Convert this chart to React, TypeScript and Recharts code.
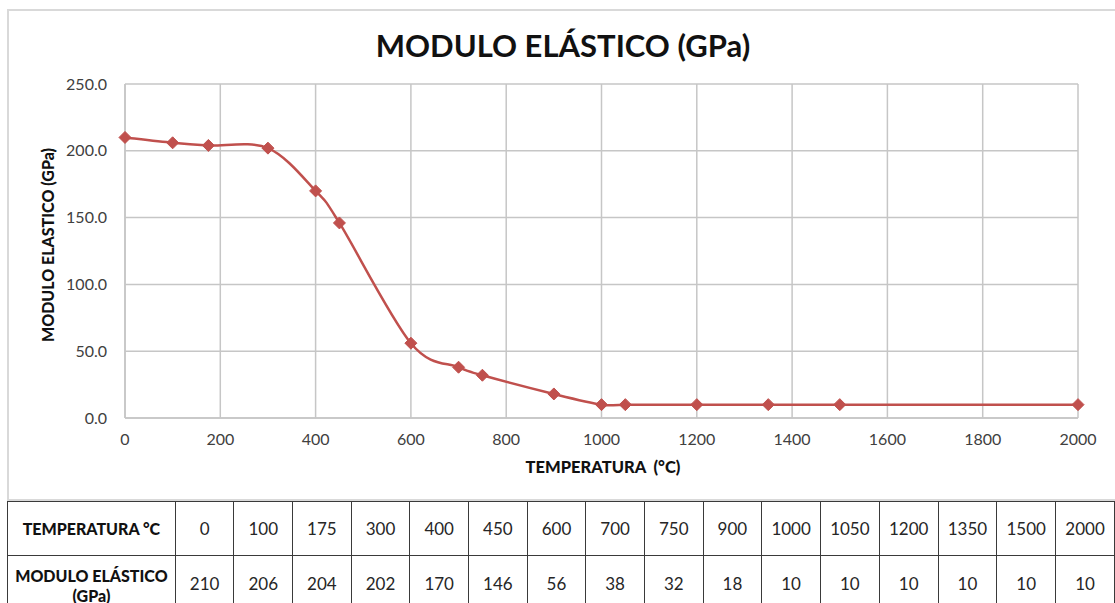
import React from "react";
import { LineChart, Line, XAxis, YAxis, CartesianGrid } from "recharts";

const temperatures = [0, 100, 175, 300, 400, 450, 600, 700, 750, 900, 1000, 1050, 1200, 1350, 1500, 2000];
const modulus = [210, 206, 204, 202, 170, 146, 56, 38, 32, 18, 10, 10, 10, 10, 10, 10];
const xTicks = [0, 200, 400, 600, 800, 1000, 1200, 1400, 1600, 1800, 2000];
const yTicks = [0, 50, 100, 150, 200, 250];

const data = temperatures.map((t, i) => ({ temp: t, value: modulus[i] }));

const RED = "#C0504D";
const FONT = "Lato, 'Open Sans', sans-serif";

// smoothed line like excel (catmull-rom style bezier)
function smoothCurve(context: any) {
  let pts: number[][] = [];
  return {
    areaStart() {},
    areaEnd() {},
    lineStart() {
      pts = [];
    },
    point(x: number, y: number) {
      pts.push([+x, +y]);
    },
    lineEnd() {
      if (!pts.length) return;
      context.moveTo(pts[0][0], pts[0][1]);
      const t = 1 / 6;
      for (let i = 0; i < pts.length - 1; i++) {
        const p0 = pts[i - 1] || pts[i];
        const p1 = pts[i];
        const p2 = pts[i + 1];
        const p3 = pts[i + 2] || p2;
        context.bezierCurveTo(
          p1[0] + (p2[0] - p0[0]) * t,
          p1[1] + (p2[1] - p0[1]) * t,
          p2[0] - (p3[0] - p1[0]) * t,
          p2[1] - (p3[1] - p1[1]) * t,
          p2[0],
          p2[1]
        );
      }
    },
  };
}

function Diamond(props: any) {
  const { cx, cy, index } = props;
  if (cx == null || cy == null) return null;
  const s = 6;
  return (
    <polygon
      key={index}
      points={`${cx},${cy - s} ${cx + s},${cy} ${cx},${cy + s} ${cx - s},${cy}`}
      fill={RED}
      stroke={RED}
    />
  );
}

const cellBase: React.CSSProperties = {
  border: "1px solid #3a3a3a",
  textAlign: "center",
  padding: 0,
  color: "#262626",
  fontSize: 17,
};

const headCell: React.CSSProperties = {
  ...cellBase,
  fontWeight: 900,
  fontSize: 16,
  color: "#111",
  whiteSpace: "nowrap",
};

export default function App() {
  return (
    <div
      style={{
        position: "absolute",
        left: 0,
        top: 0,
        width: 1115,
        height: 603,
        overflow: "hidden",
        background: "#fff",
        fontFamily: FONT,
      }}
    >
      <div
        style={{
          position: "absolute",
          left: 7,
          top: 9,
          width: 1120,
          height: 492,
          border: "2px solid #d9d9d9",
          boxSizing: "border-box",
        }}
      />
      <div
        style={{
          position: "absolute",
          left: 563,
          top: 45,
          transform: "translate(-50%, -50%)",
          whiteSpace: "nowrap",
          fontSize: 31,
          fontWeight: 700,
          color: "#111",
        }}
      >
        MODULO ELÁSTICO (GPa)
      </div>
      <div
        style={{
          position: "absolute",
          left: 47,
          top: 245,
          transform: "translate(-50%, -50%) rotate(-90deg)",
          whiteSpace: "nowrap",
          fontSize: 16,
          fontWeight: 900,
          color: "#111",
        }}
      >
        MODULO ELASTICO (GPa)
      </div>
      <div
        style={{
          position: "absolute",
          left: 603,
          top: 467,
          transform: "translate(-50%, -50%)",
          whiteSpace: "nowrap",
          fontSize: 16.5,
          fontWeight: 900,
          color: "#111",
        }}
      >
        TEMPERATURA&nbsp; (°C)
      </div>
      <div style={{ position: "absolute", left: 0, top: 0 }}>
        <LineChart
          width={1115}
          height={500}
          data={data}
          margin={{ top: 84, right: 37, bottom: 52, left: 65 }}
        >
          <CartesianGrid stroke="#c6c6c6" strokeWidth={1.5} />
          <XAxis
            dataKey="temp"
            type="number"
            domain={[0, 2000]}
            ticks={xTicks}
            height={30}
            axisLine={{ stroke: "#c6c6c6", strokeWidth: 1.5 }}
            tickLine={false}
            tick={{ fill: "#404040", fontSize: 16, fontFamily: FONT }}
            dy={8}
          />
          <YAxis
            type="number"
            domain={[0, 250]}
            ticks={yTicks}
            width={60}
            axisLine={{ stroke: "#c6c6c6", strokeWidth: 1.5 }}
            tickLine={false}
            tick={{ fill: "#404040", fontSize: 16, fontFamily: FONT }}
            tickFormatter={(v: number) => v.toFixed(1)}
            dx={-10}
          />
          <Line
            dataKey="value"
            type={smoothCurve as any}
            stroke={RED}
            strokeWidth={2.5}
            dot={<Diamond />}
            activeDot={false}
            isAnimationActive={false}
          />
        </LineChart>
      </div>
      <table
        style={{
          position: "absolute",
          left: 7,
          top: 501,
          borderCollapse: "collapse",
          tableLayout: "fixed",
          fontFamily: FONT,
        }}
      >
        <colgroup>
          <col style={{ width: 168 }} />
          {temperatures.map((t) => (
            <col key={t} style={{ width: 59 }} />
          ))}
        </colgroup>
        <tbody>
          <tr style={{ height: 54 }}>
            <td style={headCell}>TEMPERATURA °C</td>
            {temperatures.map((t) => (
              <td key={t} style={cellBase}>
                {t}
              </td>
            ))}
          </tr>
          <tr style={{ height: 56 }}>
            <td style={{ ...headCell, lineHeight: "20px", paddingTop: 4 }}>
              MODULO ELÁSTICO
              <br />
              (GPa)
            </td>
            {modulus.map((v, i) => (
              <td key={i} style={cellBase}>
                {v}
              </td>
            ))}
          </tr>
        </tbody>
      </table>
    </div>
  );
}
